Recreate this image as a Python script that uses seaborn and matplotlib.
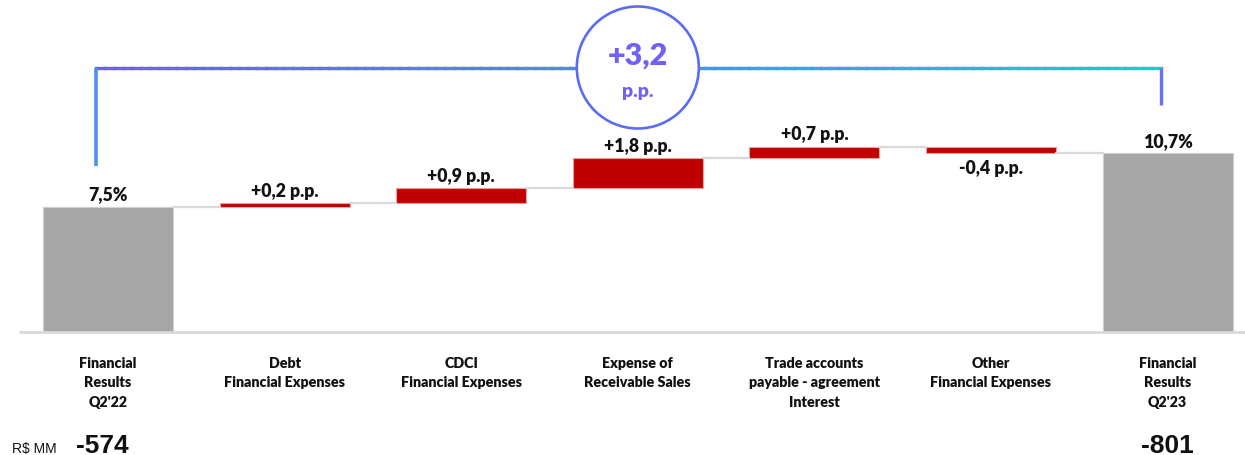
import numpy as np
import pandas as pd
import seaborn as sns
import matplotlib.pyplot as plt
from matplotlib.collections import LineCollection
from matplotlib.patches import Ellipse
from matplotlib.colors import LinearSegmentedColormap

# ---------------- data ----------------
categories = [
    "Financial\nResults\nQ2'22",
    "Debt\nFinancial Expenses",
    "CDCI\nFinancial Expenses",
    "Expense of\nReceivable Sales",
    "Trade accounts\npayable - agreement\nInterest",
    "Other\nFinancial Expenses",
    "Financial\nResults\nQ2'23",
]
values = [7.5, 0.2, 0.9, 1.8, 0.7, -0.4, 10.7]
kinds = ["total", "delta", "delta", "delta", "delta", "delta", "total"]
value_labels = ["7,5%", "+0,2 p.p.", "+0,9 p.p.", "+1,8 p.p.", "+0,7 p.p.", "-0,4 p.p.", "10,7%"]
rs_mm_values = ["-574", "", "", "", "", "", "-801"]
rs_mm_unit = "R$ MM"
total_change = "+3,2"
total_change_unit = "p.p."

# ---------------- waterfall geometry from data ----------------
bottoms, heights = [], []
level = 0.0
for v, k in zip(values, kinds):
    if k == "total":
        bottoms.append(0.0)
        heights.append(v)
        level = v
    else:
        bottoms.append(level)
        heights.append(v)
        level += v
df = pd.DataFrame({"category": categories, "height": heights, "bottom": bottoms, "kind": kinds})

RED = "#c00000"
GRAY = "#a6a6a6"
CONN = "#d9d9d9"
BAR_W = 0.736

sns.set_theme(style="white")
plt.rcParams["font.family"] = ["Lato", "DejaVu Sans"]

fig = plt.figure(figsize=(12.45, 4.56), dpi=100)
H = 456.0
base_px = 333.0
ax = fig.add_axes([0, (H - base_px) / H, 1, base_px / H])

sns.barplot(data=df, x="category", y="height", order=categories, color=RED,
            width=BAR_W, bottom=df["bottom"].values, errorbar=None, ax=ax,
            saturation=1, linewidth=0.8, edgecolor="#e8a0a0")
for p, k in zip(ax.patches, kinds):
    if k == "total":
        p.set_facecolor(GRAY)
        p.set_edgecolor("#d0d0d0")

px_per_unit = 16.7
ax.set_xlim(-108 / 176.6, (1245 - 108) / 176.6)
ax.set_ylim(0, base_px / px_per_unit)
for s in ax.spines.values():
    s.set_visible(False)
ax.set_ylabel("")
ax.set_xlabel("")
ax.set_yticks([])
ax.tick_params(axis="x", length=0, pad=17)
ax.set_xticks(range(len(categories)))
ax.set_xticklabels(categories, fontsize=10.3, fontweight=800, color="#111111")
for t in ax.get_xticklabels():
    t.set_linespacing(1.62)

# baseline
ax.plot([-0.5, 6.5], [0, 0], color=CONN, lw=2, clip_on=False, zorder=1)

# connectors
tops = [b + h for b, h in zip(bottoms, heights)]
for i in range(len(values) - 1):
    lvl = tops[i]
    ax.plot([i + BAR_W / 2, i + 1 - BAR_W / 2], [lvl, lvl], color=CONN, lw=1.6, zorder=1)

# value labels
for i, (lab, b, h) in enumerate(zip(value_labels, bottoms, heights)):
    if h >= 0:
        ax.text(i, b + h + 0.25, lab, ha="center", va="bottom", fontsize=12.7,
                fontweight=800, color="#111111")
    else:
        ax.text(i, b + h - 0.35, lab, ha="center", va="top", fontsize=12.7,
                fontweight=800, color="#111111")

# bracket with gradient
y_br = (base_px - 69) / px_per_unit
x_left = (96 - 108) / 176.6
x_right = 6 + (1161 - 1167.5) / 176.6
xs = np.linspace(x_left, x_right, 120)
segs = [[(xs[j], y_br), (xs[j + 1], y_br)] for j in range(len(xs) - 1)]
cmap = LinearSegmentedColormap.from_list("br", ["#6e5cff", "#4f8cf0", "#10d2c4"])
lc = LineCollection(segs, colors=cmap(np.linspace(0, 1, len(segs))), linewidths=2.4,
                    zorder=3, capstyle="projecting")
ax.add_collection(lc)
ax.plot([x_left, x_left], [y_br, (base_px - 167) / px_per_unit], color="#4a8ff2", lw=2.6,
        zorder=3, solid_capstyle="butt")
ax.plot([x_right, x_right], [y_br, (base_px - 106) / px_per_unit], color="#6470ff", lw=2.4,
        zorder=3, solid_capstyle="butt")

# circle
cx = 3.0
cy = (base_px - 68.5) / px_per_unit
r = 61
circ = Ellipse((cx, cy), width=2 * r / 176.6, height=2 * r / px_per_unit, facecolor="white",
               edgecolor="#5a6cf5", lw=1.9, zorder=4, clip_on=False)
ax.add_patch(circ)
ax.text(cx, (base_px - 56) / px_per_unit, total_change, ha="center", va="center",
        fontsize=22, fontweight=800, color="#7060f5", zorder=5)
ax.text(cx, (base_px - 92) / px_per_unit, total_change_unit, ha="center", va="center",
        fontsize=14, fontweight=800, color="#7060f5", zorder=5)

# R$ MM row
y_rs = -(453 - base_px) / px_per_unit
ax.text((34 - 108) / 176.6, y_rs, rs_mm_unit, ha="center", va="baseline", fontsize=10,
        family=["Liberation Sans", "DejaVu Sans"], color="#111111", clip_on=False)
for i, v in enumerate(rs_mm_values):
    if v:
        ax.text(i - 0.03 if i == 0 else i, y_rs, v, ha="center", va="baseline", fontsize=19,
                fontweight="bold", family=["Liberation Sans", "DejaVu Sans"],
                color="#111111", clip_on=False)

fig.savefig("out.png", dpi=100)
